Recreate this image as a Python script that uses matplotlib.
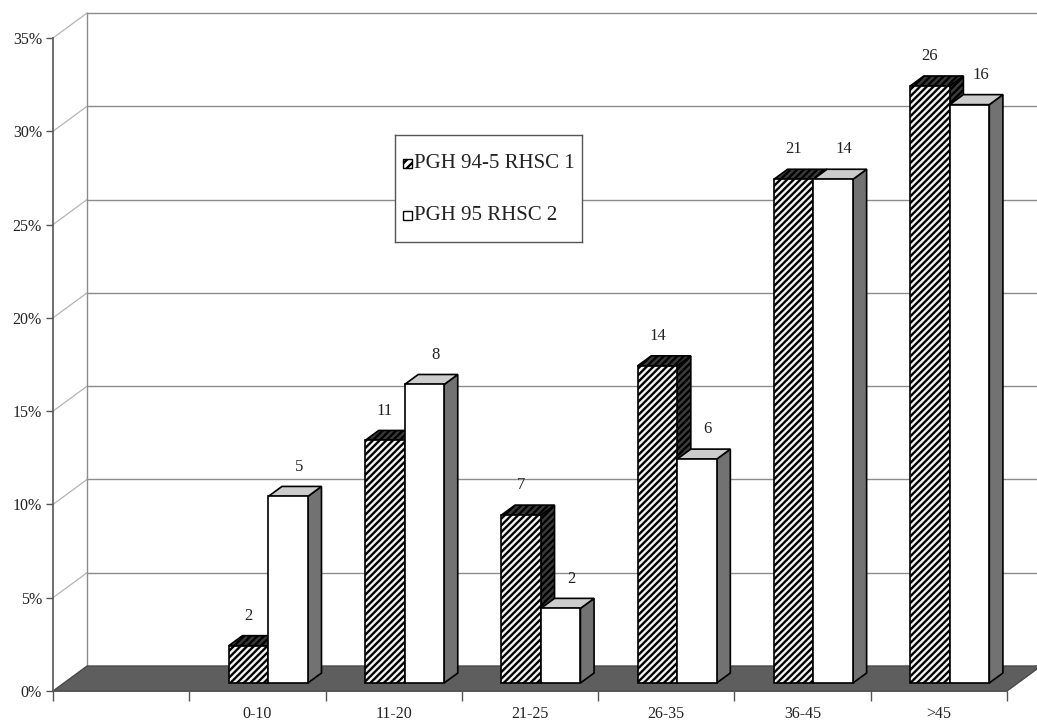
import matplotlib
matplotlib.use("Agg")
import matplotlib.pyplot as plt
from matplotlib.patches import Polygon, Rectangle

# ---- data -------------------------------------------------------------
slot_labels = ["", "0-10", "11-20", "21-25", "26-35", "36-45", ">45"]
series_names = ["PGH 94-5 RHSC 1", "PGH 95 RHSC 2"]
pct_rhsc1 = [2, 13, 9, 17, 27, 32]      # % of patients, first series
pct_rhsc2 = [10, 16, 4, 12, 27, 31]     # % of patients, second series
count_rhsc1 = [2, 11, 7, 14, 21, 26]    # patient counts shown above bars
count_rhsc2 = [5, 8, 2, 6, 14, 16]
y_ticks = [0, 5, 10, 15, 20, 25, 30, 35]

# ---- pseudo-3D geometry (in data units of the front plane) -----------
DX, DY = 0.25, 1.34          # full depth of the box
F0, F1 = 0.32, 0.72          # bar depth range (fraction of full depth)
BAR_W = 0.29
BAR_START = 0.21
SERIF = "Liberation Serif"
HATCH = "/////"

W, H = 1037, 724
plt.rcParams["hatch.linewidth"] = 1.7
plt.rcParams["hatch.color"] = "#222222"
fig = plt.figure(figsize=(W / 100, H / 100), dpi=100)
fig.patch.set_facecolor("white")
ax = fig.add_axes([53 / W, (H - 691) / H, 954 / W, 653 / H])
ax.set_xlim(0, len(slot_labels))
ax.set_ylim(0, 35)
ax.set_facecolor("none")

n = len(slot_labels)


def shift(pts, f):
    return [(x + f * DX, y + f * DY) for x, y in pts]


# back wall gridlines and left wall connectors
for v in y_ticks[1:]:
    ax.plot([DX, n + DX], [v + DY, v + DY], color="#8c8c8c", lw=1.0,
            zorder=1, clip_on=False)
    ax.plot([0, DX], [v, v + DY], color="#b4b4b4", lw=0.9, zorder=1,
            clip_on=False)
ax.plot([DX, DX], [DY, 35 + DY], color="#8c8c8c", lw=1.0, zorder=1,
        clip_on=False)

# floor
ax.add_patch(Polygon([(0, 0), (n, 0), (n + DX, DY), (DX, DY)], closed=True,
                     facecolor="#5e5e5e", edgecolor="#4a4a4a", lw=1,
                     zorder=2, clip_on=False))


def draw_bar(x0, h, face, top, side, hatch, z):
    x1 = x0 + BAR_W
    front = shift([(x0, 0), (x1, 0), (x1, h), (x0, h)], F0)
    top_poly = shift([(x0, h), (x1, h)], F0) + shift([(x1, h), (x0, h)], F1)
    side_poly = shift([(x1, 0), (x1, h)], F0) + shift([(x1, h), (x1, 0)], F1)
    for poly, fc in ((side_poly, side), (top_poly, top), (front, face)):
        ax.add_patch(Polygon(poly, closed=True, facecolor=fc,
                             edgecolor="black", lw=1.2, hatch=hatch,
                             zorder=z, clip_on=False))


label_style = dict(ha="center", va="center", fontsize=12,
                   family=SERIF, color="#222222", zorder=50)

z = 10
for i in range(len(pct_rhsc1)):
    slot = i + 1
    x_a = slot + BAR_START
    x_b = x_a + BAR_W
    draw_bar(x_a, pct_rhsc1[i], "#f4f4f4", "#3a3a3a", "#3c3c3c", HATCH, z)
    draw_bar(x_b, pct_rhsc2[i], "white", "#cccccc", "#727272", None, z + 1)
    z += 2
    ax.text(x_a + BAR_W / 2 + F0 * DX, pct_rhsc1[i] + F0 * DY + 1.6,
            str(count_rhsc1[i]), **label_style)
    ax.text(x_b + BAR_W / 2 + F0 * DX + 0.08, pct_rhsc2[i] + F0 * DY + 1.6,
            str(count_rhsc2[i]), **label_style)

# axes: front vertical axis and front floor edge
for s in ("top", "right"):
    ax.spines[s].set_visible(False)
for s in ("left", "bottom"):
    ax.spines[s].set_color("#555555")
    ax.spines[s].set_linewidth(1.2)
    ax.spines[s].set_zorder(3)

ax.set_yticks(y_ticks)
ax.set_yticklabels([f"{v}%" for v in y_ticks], family=SERIF, fontsize=11.5,
                   color="#222222")
ax.tick_params(axis="y", length=5, width=1, color="#555555", pad=3)

ax.set_xticks(range(n + 1))
ax.set_xticklabels([])
ax.set_xticks([k + 0.5 for k in range(n)], minor=True)
ax.set_xticklabels(slot_labels, minor=True, family=SERIF, fontsize=11.5,
                   color="#222222")
ax.tick_params(axis="x", which="major", length=7, width=1, color="#555555")
ax.tick_params(axis="x", which="minor", length=0, pad=11)

# legend box
lx, ly, lw_, lh = 395, 135, 187, 107
lax = fig.add_axes([lx / W, 1 - (ly + lh) / H, lw_ / W, lh / H], zorder=60)
lax.set_xlim(0, lw_)
lax.set_ylim(lh, 0)
lax.set_xticks([])
lax.set_yticks([])
lax.set_facecolor("white")
for s in lax.spines.values():
    s.set_color("#555555")
    s.set_linewidth(1.0)
for k, (name, hatch, fc) in enumerate(zip(series_names, ["////", None],
                                          ["white", "white"])):
    cy = 28 + k * 52
    lax.add_patch(Rectangle((8, cy - 4.5), 9, 9, facecolor=fc,
                            edgecolor="black", lw=1.0, hatch=hatch))
    lax.text(19, cy, name, ha="left", va="center", family=SERIF,
             fontsize=15, color="#222222")

fig.savefig("out.png", dpi=100)
